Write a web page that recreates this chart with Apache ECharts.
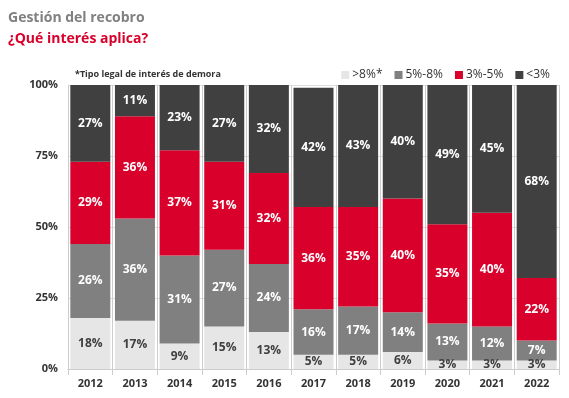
<!DOCTYPE html>
<html>
<head>
<meta charset="utf-8">
<script src="https://cdn.jsdelivr.net/npm/echarts@6/dist/echarts.min.js"></script>
<style>
  html, body { margin: 0; padding: 0; background: #fff; }
  #chart { width: 569px; height: 398px; }
</style>
</head>
<body>
<div id="chart"></div>
<script>
// años
var years = ['2012', '2013', '2014', '2015', '2016', '2017', '2018', '2019', '2020', '2021', '2022'];
// porcentajes por tramo
var over8 = [18, 17, 9, 15, 13, 5, 5, 6, 3, 3, 3];
var from5to8 = [26, 36, 31, 27, 24, 16, 17, 14, 13, 12, 7];
var from3to5 = [29, 36, 37, 31, 32, 36, 35, 40, 35, 40, 22];
var under3 = [27, 11, 23, 27, 32, 42, 43, 40, 49, 45, 68];
var yTicks = [0, 25, 50, 75, 100];

var font = 'Open Sans';
var chart = echarts.init(document.getElementById('chart'));

var mkSeries = function (name, data, color, labelColor) {
    return {
        name: name,
        type: 'bar',
        stack: 'total',
        barWidth: 40,
        data: data,
        itemStyle: { color: color },
        label: {
            show: true,
            position: 'inside',
            formatter: '{c}%',
            color: labelColor,
            fontFamily: font,
            fontWeight: 'bold',
            fontSize: 12
        }
    };
};

var option = {
    animation: false,
    textStyle: { fontFamily: font },
    title: [
        {
            text: 'Gestión del recobro',
            left: 3, top: 6,
            textStyle: { color: '#808080', fontSize: 14, fontWeight: 'bold', fontFamily: font }
        },
        {
            text: '¿Qué interés aplica?',
            left: 3, top: 27,
            textStyle: { color: '#d9002b', fontSize: 14, fontWeight: 'bold', fontFamily: font }
        },
        {
            text: '*Tipo legal de interés de demora',
            left: 70, top: 65,
            textStyle: { color: '#333', fontSize: 9, fontWeight: 'bold', fontFamily: font }
        }
    ],
    legend: {
        right: 14, top: 64,
        itemWidth: 8, itemHeight: 8,
        itemGap: 12,
        icon: 'rect',
        textStyle: { color: '#333', fontSize: 12, fontFamily: font, padding: [0, 0, 0, -2] },
        data: ['>8%*', '5%-8%', '3%-5%', '<3%']
    },
    grid: { left: 68, right: 10, top: 85, bottom: 29 },
    xAxis: {
        type: 'category',
        data: years,
        axisLine: { lineStyle: { color: '#ccc' } },
        axisTick: { show: true, length: 6, lineStyle: { color: '#ccc' } },
        splitLine: { show: true, lineStyle: { color: '#ccc' } },
        axisLabel: { color: '#333', fontWeight: 'bold', fontSize: 11, margin: 9 }
    },
    yAxis: {
        type: 'value',
        min: yTicks[0], max: yTicks[yTicks.length - 1], interval: 25,
        axisLabel: { formatter: '{value}%', color: '#333', fontWeight: 'bold', fontSize: 11, margin: 10 },
        axisLine: { show: false },
        splitLine: { lineStyle: { color: '#ddd' } }
    },
    series: [
        mkSeries('>8%*', over8, '#e6e6e6', '#404040'),
        mkSeries('5%-8%', from5to8, '#808080', '#fff'),
        mkSeries('3%-5%', from3to5, '#d9002b', '#fff'),
        mkSeries('<3%', under3, '#404040', '#fff')
    ]
};

option && chart.setOption(option);
</script>
</body>
</html>
